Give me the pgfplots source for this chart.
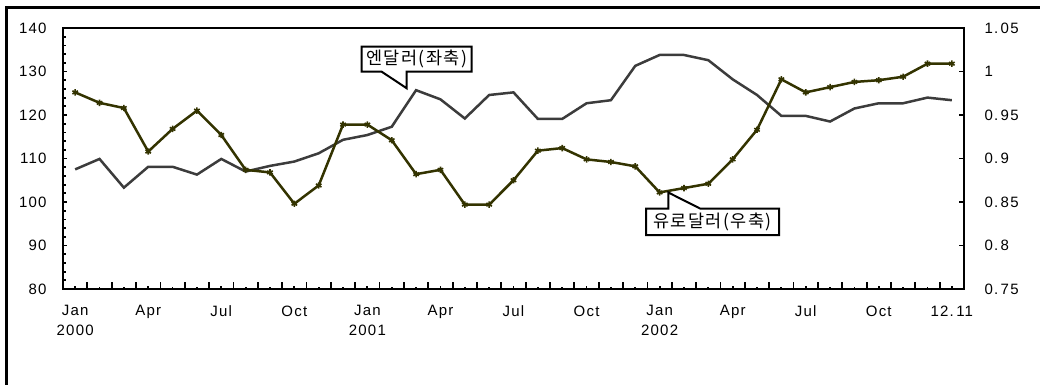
\documentclass[border=0pt]{standalone}
\usepackage{fontspec}
\setmainfont[LetterSpace=8]{Liberation Sans}
\newfontfamily\kr[LetterSpace=8]{Noto Sans CJK KR}
\usepackage{pgfplots}
\pgfplotsset{compat=1.18}
\usepackage{pgfplotstable}
\definecolor{yenc}{RGB}{60,60,60}
\definecolor{euroc}{RGB}{51,51,0}
\pgfplotstableread{
x y
0 107.5
1 109.9
2 103.3
3 108.1
4 108.1
5 106.3
6 109.9
7 107.0
8 108.3
9 109.3
10 111.2
11 114.3
12 115.4
13 117.3
14 125.7
15 123.6
16 119.2
17 124.6
18 125.2
19 119.1
20 119.1
21 122.7
22 123.4
23 131.3
24 133.8
25 133.8
26 132.6
27 128.2
28 124.6
29 119.8
30 119.8
31 118.5
32 121.5
33 122.7
34 122.7
35 124.0
36 123.4
}\yentable
\pgfplotstableread{
x y
0 0.976
1 0.964
2 0.958
3 0.908
4 0.934
5 0.955
6 0.927
7 0.887
8 0.884
9 0.848
10 0.869
11 0.939
12 0.939
13 0.921
14 0.882
15 0.887
16 0.847
17 0.847
18 0.875
19 0.909
20 0.912
21 0.899
22 0.896
23 0.891
24 0.861
25 0.866
26 0.871
27 0.899
28 0.933
29 0.991
30 0.976
31 0.982
32 0.988
33 0.990
34 0.994
35 1.009
36 1.009
}\eurotable
\begin{document}
\begin{tikzpicture}[x=1pt,y=1pt]
\path[use as bounding box] (0,0) rectangle (1040,384);
\clip (0,0) rectangle (1040,384);
\draw[line width=3pt] (6.5,-20) -- (6.5,376.5) -- (1060,376.5);
\begin{axis}[
  at={(63pt,95pt)}, anchor=south west,
  scale only axis, width=901pt, height=261pt,
  xmin=-0.5, xmax=36.5, ymin=80, ymax=140,
  axis line style={line width=2.5pt},
  every tick/.style={black, line width=1.8pt},
  tick align=inside,
  xtick pos=bottom, ytick pos=left,
  xtick={0,3,...,36},
  xticklabels={{Jan\\2000},Apr,Jul,Oct,{Jan\\2001},Apr,Jul,Oct,{Jan\\2002},Apr,Jul,Oct,{12.\,11}},
  minor x tick num=2,
  major tick length=3.5pt, minor tick length=2.5pt,
  extra x ticks={-0.5,0.5,...,36.5},
  extra x tick labels={},
  extra x tick style={major tick length=7pt},
  ytick={80,90,...,140},
  yticklabels={80,90,100,110,120,130,140},
  minor y tick num=4,
  x tick label style={font=\fontsize{15}{20}\selectfont, align=center, anchor=north},
  y tick label style={font=\fontsize{15}{16}\selectfont},
  xticklabel style={yshift=-13pt},
  yticklabel style={xshift=-13pt},
  clip=false,
]
\addplot[yenc, line width=2.5pt, no markers] table[x=x,y=y] {\yentable};
\end{axis}
\begin{axis}[
  at={(63pt,95pt)}, anchor=south west,
  scale only axis, width=901pt, height=261pt,
  xmin=-0.5, xmax=36.5, ymin=0.75, ymax=1.05,
  axis line style={line width=2.5pt},
  every tick/.style={black, line width=1.8pt},
  tick align=inside,
  axis x line=none,
  ytick pos=right, yticklabel pos=right,
  ytick={0.75,0.8,...,1.05},
  yticklabels={{0.\,75},{0.\,8},{0.\,85},{0.\,9},{0.\,95},{1},{1.\,05}},
  major tick length=5pt,
  y tick label style={font=\fontsize{15}{16}\selectfont, anchor=west},
  yticklabel style={xshift=17pt},
  clip=false,
]
\addplot[euroc, line width=2.5pt, mark=asterisk, mark size=3.2pt, mark options={line width=1.6pt}] table[x=x,y=y] {\eurotable};
\end{axis}
\filldraw[fill=white, draw=black, line width=2pt]
  (361.7,337.3) -- (471.7,337.3) -- (471.7,312.3) -- (406.7,312.3) -- (406.7,295.7) -- (381.7,312.3) -- (361.7,312.3) -- cycle;
\node[font=\kr\fontsize{17.5}{18}\selectfont] at (416.7,324.8) {엔달러(좌축)};
\filldraw[fill=white, draw=black, line width=2pt]
  (646,175.5) -- (668.3,175.5) -- (668.3,191.5) -- (700,175.5) -- (779,175.5) -- (779,149) -- (646,149) -- cycle;
\node[font=\kr\fontsize{17.5}{18}\selectfont] at (712.5,162.2) {유로달러(우축)};
\end{tikzpicture}
\end{document}
